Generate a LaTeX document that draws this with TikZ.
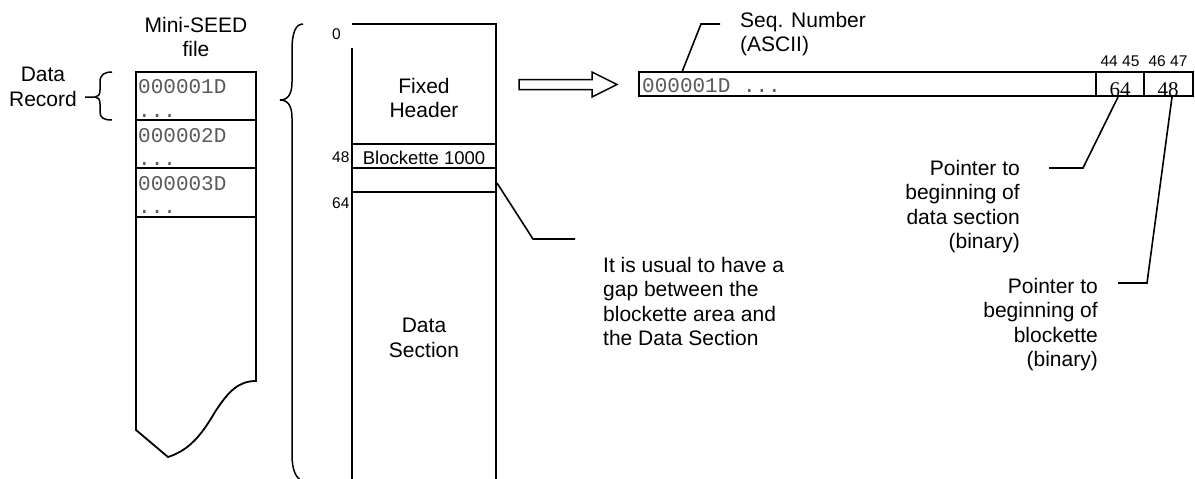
\documentclass[tikz,border=0pt]{standalone}
\usepackage{fontspec}
\setmainfont{Liberation Sans}
\newfontfamily\monofont{Liberation Mono}
\newfontfamily\seriffont{Liberation Serif}
\begin{document}
\begin{tikzpicture}[x=1pt,y=-1pt,
  outl/.style={line width=1.8pt, line join=miter},
  divline/.style={line width=1.5pt},
  leader/.style={line width=1.6pt},
  bracestyle/.style={line width=1.5pt},
  txt/.style={inner sep=0pt, font=\fontsize{21}{24.5}\selectfont},
  lbl/.style={inner sep=0pt, font=\fontsize{15.5}{18}\selectfont},
  mono/.style={inner sep=0pt, font=\monofont\fontsize{21}{24}\selectfont, text=black!65},
  tnum/.style={inner sep=0pt, font=\seriffont\fontsize{21}{24}\selectfont}]
\useasboundingbox (0,0) rectangle (1195,479);

% ---------- Mini-SEED file ----------
\node[txt, anchor=north, align=center] (filetitle) at (196,17) {Mini-SEED\\file};
\draw[outl] (136,72) -- (256,72) -- (256,381)
  .. controls (238,381) and (228,392) .. (215,412)
  .. controls (202,434) and (190,450) .. (168,457)
  -- (136,430) -- cycle;
\draw[outl] (136,120) -- (256,120) (136,168) -- (256,168) (136,217) -- (256,217);
\node[mono, anchor=base west] (r1) at (138,93) {000001D};
\node[mono, anchor=base west] (r1d) at (138,117) {...};
\node[mono, anchor=base west] (r2) at (138,142) {000002D};
\node[mono, anchor=base west] (r2d) at (138,165) {...};
\node[mono, anchor=base west] (r3) at (138,190) {000003D};
\node[mono, anchor=base west] (r3d) at (138,213) {...};

% small brace + label
\node[txt, anchor=north, align=center] (datarec) at (43,67) {Data\\Record};
\draw[bracestyle] (85,97) -- (95,97) .. controls (98,97) and (100,95) .. (100,90) -- (100,82)
  .. controls (100,75) and (104,72) .. (112,72);
\draw[bracestyle] (95,97) .. controls (98,97) and (100,99) .. (100,104) -- (100,112)
  .. controls (100,118) and (104,120) .. (112,120);

% big brace
\draw[bracestyle] (303,24) .. controls (296,24) and (292,32) .. (292,50) -- (292,82)
  .. controls (292,94) and (288,100) .. (280,100)
  .. controls (288,100) and (292,106) .. (292,118) -- (292,455)
  .. controls (292,470) and (296,479) .. (303,481);

% ---------- Data record ----------
\draw[outl] (352,481) -- (352,48);
\draw[outl] (352,24) -- (496,24) -- (496,481);
\draw[divline] (352,144) -- (496,144) (352,168) -- (496,168) (352,192) -- (496,192);
\node[lbl, anchor=base west] (o0) at (332,39) {0};
\node[lbl, anchor=base west] (o48) at (332,162) {48};
\node[lbl, anchor=base west] (o64) at (332,208) {64};
\node[txt, anchor=north, align=center] (fixed) at (424,78) {Fixed\\Header};
\node[inner sep=0pt, font=\fontsize{18.5}{20}\selectfont, anchor=base] (blk) at (424,164) {Blockette 1000};
\node[txt, anchor=north, align=center] (datasec) at (424,318) {Data\\Section};

% gap note
\coordinate (gapA) at (497,183);
\coordinate (gapB) at (533,239);
\coordinate (gapC) at (575,239);
\draw[leader] (gapA) -- (gapB) -- (gapC);
\node[txt, anchor=north west, align=left] (gapnote) at (603,257)
  {It is usual to have a\\gap between the\\blockette area and\\the Data Section};

% hollow arrow
\draw[line width=1.5pt, line join=miter] (519,79.5) -- (592,79.5) -- (592,72) -- (617,84.5)
  -- (592,97) -- (592,89.5) -- (519,89.5) -- cycle;

% ---------- Fixed header bar ----------
\draw[outl] (639,72) rectangle (1193,96);
\draw[outl] (1096,72) -- (1096,96) (1144,72) -- (1144,96);
\node[mono, anchor=base west] (bartxt) at (642,92) {000001D ...};
\node[lbl, anchor=base] (b44) at (1120,66) {44 45};
\node[lbl, anchor=base] (b46) at (1168,66) {46 47};
\node[tnum, anchor=base] (v64) at (1120,96.5) {64};
\node[tnum, anchor=base] (v48) at (1168,96.5) {48};

% seq number
\node[txt, anchor=north west, align=left] (seq) at (740,12) {Seq. Number\\(ASCII)};
\coordinate (seqA) at (682,72);
\coordinate (seqB) at (701,24);
\coordinate (seqC) at (720,24);
\draw[leader] (seqA) -- (seqB) -- (seqC);

% pointers
\coordinate (pA1) at (1118,97);
\coordinate (pB1) at (1083,168);
\coordinate (pC1) at (1049,168);
\draw[leader] (pA1) -- (pB1) -- (pC1);
\node[txt, anchor=north east, align=right] (ptr1) at (1020,160)
  {Pointer to\\beginning of\\data section\\(binary)};
\coordinate (pA2) at (1172,97);
\coordinate (pB2) at (1147,283);
\coordinate (pC2) at (1118,283);
\draw[leader] (pA2) -- (pB2) -- (pC2);
\node[txt, anchor=north east, align=right] (ptr2) at (1098,278)
  {Pointer to\\beginning of\\blockette\\(binary)};
\end{tikzpicture}
\end{document}
